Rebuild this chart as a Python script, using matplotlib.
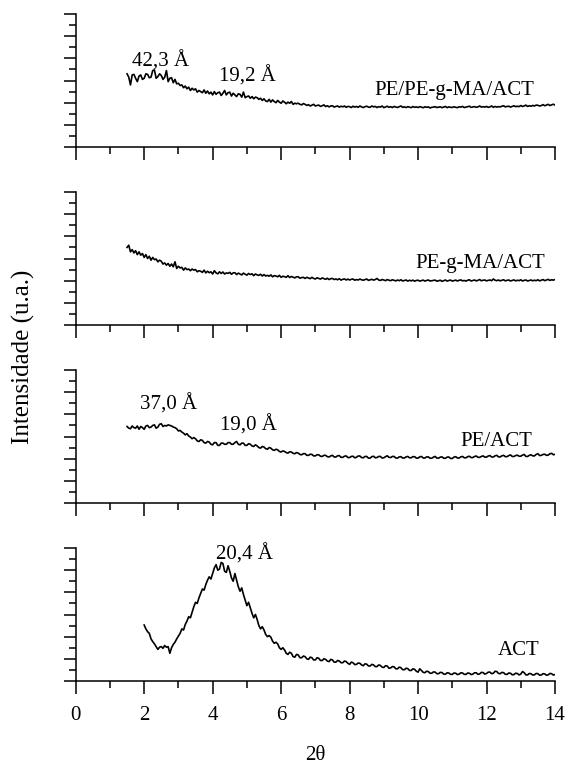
import numpy as np
import matplotlib
matplotlib.use("Agg")
import matplotlib.pyplot as plt
from matplotlib.ticker import MultipleLocator, NullFormatter

plt.rcParams['font.family'] = ['Liberation Serif', 'DejaVu Serif']

# ---------------- data (step 0.05 in 2theta) ----------------
start_pe_ma_act = 1.5
i_pe_ma_act = [
    6.6, 6.3, 5.6, 6.5, 6.55, 6.2, 5.9, 6.4, 6.5, 6.1, 6.2, 6.6, 6.55, 6.25, 6.3, 6.9, 6.95, 6.2, 6.35, 6.6,
    6.45, 6.1, 6.3, 6.9, 5.9, 6.2, 6.25, 5.8, 6.1, 5.7, 5.75, 5.55, 5.6, 5.35, 5.5, 5.25, 5.4, 5.1, 5.3, 5.15,
    5.25, 4.95, 5.1, 5.0, 4.9, 5.15, 4.85, 5.05, 4.8, 4.95, 4.7, 5.0, 4.75, 4.9, 4.95, 4.65, 4.85, 5.1, 4.7, 4.9,
    4.95, 4.6, 4.85, 4.7, 4.55, 4.8, 4.75, 4.5, 4.95, 4.45, 4.55, 4.6, 4.4, 4.55, 4.35, 4.5, 4.45, 4.3, 4.4, 4.2,
    4.35, 4.15, 4.1, 4.3, 4.05, 4.25, 4.1, 4.0, 4.2, 4.05, 3.95, 4.15, 4.05, 3.9, 4.05, 3.95, 4.1, 3.85, 3.95, 3.9,
    3.95, 3.85, 3.8, 3.92, 3.85, 3.75, 3.82, 3.7, 3.78, 3.85, 3.7, 3.75, 3.78, 3.66, 3.72, 3.8, 3.65, 3.72, 3.62, 3.7,
    3.72, 3.6, 3.66, 3.7, 3.6, 3.68, 3.62, 3.7, 3.58, 3.66, 3.64, 3.56, 3.68, 3.6, 3.66, 3.58, 3.7, 3.62, 3.56, 3.64,
    3.68, 3.6, 3.58, 3.7, 3.62, 3.66, 3.56, 3.64, 3.6, 3.7, 3.55, 3.62, 3.68, 3.58, 3.64, 3.56, 3.66, 3.6, 3.57, 3.63,
    3.7, 3.58, 3.62, 3.56, 3.64, 3.6, 3.55, 3.65, 3.58, 3.62, 3.56, 3.64, 3.6, 3.54, 3.63, 3.58, 3.62, 3.52, 3.58, 3.6,
    3.64, 3.56, 3.6, 3.62, 3.55, 3.6, 3.66, 3.55, 3.62, 3.58, 3.57, 3.63, 3.58, 3.55, 3.63, 3.6, 3.66, 3.56, 3.6, 3.63,
    3.68, 3.57, 3.62, 3.64, 3.58, 3.62, 3.7, 3.6, 3.64, 3.6, 3.66, 3.58, 3.62, 3.7, 3.58, 3.66, 3.6, 3.64, 3.62, 3.68,
    3.72, 3.62, 3.66, 3.68, 3.6, 3.66, 3.72, 3.64, 3.68, 3.64, 3.74, 3.66, 3.7, 3.78, 3.66, 3.72, 3.68, 3.75, 3.7, 3.78,
    3.76, 3.7, 3.74, 3.82, 3.72, 3.78, 3.85, 3.74, 3.8, 3.86, 3.78,
]

start_ma_act = 1.5
i_ma_act = [
    7.0, 7.2, 6.6, 6.8, 6.5, 6.7, 6.35, 6.6, 6.3, 6.45, 6.1, 6.35, 6.0, 6.2, 5.85, 6.1, 5.9, 5.95, 5.7, 5.85,
    5.75, 5.5, 5.6, 5.4, 5.55, 5.3, 5.5, 5.25, 5.7, 5.1, 5.3, 5.15, 5.2, 4.95, 5.15, 5.0, 5.05, 4.9, 5.05, 4.95,
    5.0, 4.8, 4.9, 4.85, 4.75, 4.95, 4.7, 4.85, 4.72, 4.8, 4.6, 4.9, 4.7, 4.62, 4.8, 4.65, 4.78, 4.6, 4.7, 4.66,
    4.75, 4.58, 4.7, 4.72, 4.55, 4.68, 4.6, 4.52, 4.68, 4.58, 4.5, 4.65, 4.55, 4.62, 4.45, 4.6, 4.52, 4.48, 4.58, 4.42,
    4.55, 4.42, 4.48, 4.4, 4.52, 4.35, 4.45, 4.42, 4.35, 4.48, 4.3, 4.4, 4.36, 4.3, 4.45, 4.28, 4.38, 4.32, 4.25, 4.35,
    4.35, 4.22, 4.28, 4.3, 4.2, 4.3, 4.24, 4.18, 4.3, 4.2, 4.15, 4.26, 4.2, 4.14, 4.25, 4.18, 4.12, 4.22, 4.1, 4.18,
    4.2, 4.1, 4.16, 4.08, 4.18, 4.05, 4.12, 4.16, 4.06, 4.14, 4.06, 4.12, 4.15, 4.04, 4.1, 4.06, 4.14, 4.08, 4.04, 4.1,
    4.15, 4.03, 4.08, 4.12, 4.05, 4.1, 4.2, 4.06, 4.02, 4.1, 4.06, 4.0, 4.1, 4.04, 4.0, 4.08, 4.03, 3.98, 4.06, 4.0,
    4.08, 3.97, 4.02, 4.06, 3.96, 4.04, 3.98, 4.05, 3.95, 4.02, 4.04, 3.96, 4.0, 4.05, 3.96, 4.02, 4.06, 3.97, 4.0, 4.03,
    4.05, 3.95, 4.0, 4.04, 3.94, 4.0, 4.06, 3.96, 4.02, 4.05, 3.96, 4.0, 4.05, 3.97, 4.03, 4.07, 3.98, 4.02, 3.96, 4.04,
    4.08, 3.97, 4.02, 4.06, 3.98, 4.03, 4.1, 3.99, 4.04, 4.06, 3.98, 4.03, 4.06, 4.0, 4.15, 4.04, 4.0, 4.06, 3.98, 4.04,
    4.08, 3.98, 4.03, 4.06, 3.97, 4.02, 4.07, 3.98, 4.04, 4.0, 4.08, 3.97, 4.03, 4.06, 3.97, 4.02, 4.06, 3.99, 4.04, 4.0,
    4.08, 3.98, 4.04, 4.1, 4.0, 4.06, 4.12, 4.02, 4.08, 4.05, 4.1,
]

start_pe_act = 1.5
i_pe_act = [
    6.9, 6.75, 6.7, 6.95, 6.8, 6.75, 6.95, 6.65, 6.9, 6.8, 6.65, 6.95, 7.0, 6.8, 6.85, 7.0, 7.05, 6.75, 6.85, 7.1,
    7.15, 6.9, 7.0, 6.95, 7.05, 7.0, 6.95, 6.85, 6.8, 6.7, 6.5, 6.55, 6.4, 6.3, 6.15, 6.25, 6.05, 5.95, 5.8, 5.9,
    5.8, 5.6, 5.55, 5.7, 5.65, 5.45, 5.4, 5.55, 5.5, 5.3, 5.25, 5.45, 5.45, 5.2, 5.2, 5.4, 5.4, 5.3, 5.3, 5.45,
    5.45, 5.3, 5.3, 5.45, 5.55, 5.3, 5.25, 5.4, 5.4, 5.2, 5.2, 5.35, 5.3, 5.15, 5.1, 5.25, 5.15, 5.0, 4.95, 5.1,
    5.05, 4.9, 4.85, 5.0, 4.95, 4.8, 4.75, 4.85, 4.8, 4.65, 4.6, 4.7, 4.65, 4.55, 4.5, 4.62, 4.6, 4.48, 4.45, 4.55,
    4.5, 4.38, 4.35, 4.45, 4.45, 4.3, 4.3, 4.4, 4.38, 4.25, 4.25, 4.35, 4.35, 4.22, 4.2, 4.3, 4.3, 4.18, 4.15, 4.25,
    4.3, 4.15, 4.15, 4.26, 4.28, 4.12, 4.12, 4.22, 4.25, 4.1, 4.1, 4.2, 4.22, 4.08, 4.12, 4.24, 4.24, 4.1, 4.08, 4.2,
    4.2, 4.05, 4.05, 4.18, 4.22, 4.08, 4.1, 4.2, 4.2, 4.06, 4.08, 4.18, 4.26, 4.12, 4.1, 4.2, 4.2, 4.06, 4.05, 4.16,
    4.18, 4.06, 4.06, 4.16, 4.2, 4.08, 4.08, 4.18, 4.18, 4.05, 4.05, 4.16, 4.2, 4.06, 4.06, 4.16, 4.16, 4.04, 4.04, 4.14,
    4.2, 4.05, 4.05, 4.14, 4.16, 4.04, 4.04, 4.14, 4.15, 4.02, 4.02, 4.14, 4.18, 4.06, 4.06, 4.16, 4.2, 4.08, 4.08, 4.18,
    4.22, 4.1, 4.1, 4.2, 4.24, 4.12, 4.12, 4.2, 4.25, 4.14, 4.14, 4.24, 4.28, 4.15, 4.15, 4.26, 4.3, 4.16, 4.16, 4.26,
    4.3, 4.18, 4.18, 4.28, 4.34, 4.2, 4.2, 4.28, 4.32, 4.22, 4.22, 4.32, 4.38, 4.2, 4.2, 4.3, 4.35, 4.25, 4.25, 4.38,
    4.45, 4.28, 4.3, 4.38, 4.4, 4.3, 4.32, 4.44, 4.48, 4.36, 4.38,
]

start_act = 2.0
i_act = [
    5.05, 4.7, 4.45, 4.3, 3.8, 3.55, 3.35, 3.1, 2.85, 3.05, 3.1, 2.95, 3.2, 3.05, 3.1, 2.5, 3.0, 3.3, 3.5, 3.8,
    4.05, 4.3, 4.7, 4.6, 5.1, 5.4, 5.8, 5.7, 6.2, 6.7, 7.1, 7.0, 7.5, 7.9, 8.3, 8.2, 8.7, 9.1, 9.4, 9.2,
    9.7, 10.2, 10.5, 10.0, 10.1, 10.7, 10.6, 9.9, 9.8, 10.4, 9.9, 9.3, 9.0, 9.7, 9.1, 8.5, 8.1, 8.4, 7.8, 7.3,
    6.8, 7.1, 6.6, 6.1, 5.7, 6.0, 5.55, 5.0, 4.7, 4.9, 4.6, 4.2, 4.0, 4.1, 3.95, 3.6, 3.4, 3.5, 3.35, 3.0,
    2.85, 3.0, 2.8, 2.5, 2.4, 2.6, 2.5, 2.2, 2.15, 2.4, 2.35, 2.1, 2.1, 2.25, 2.2, 2.0, 1.95, 2.15, 2.1, 1.9,
    1.9, 2.1, 2.05, 1.85, 1.85, 2.0, 1.95, 1.8, 1.75, 1.95, 1.9, 1.7, 1.7, 1.85, 1.8, 1.65, 1.65, 1.8, 1.75, 1.6,
    1.5, 1.7, 1.65, 1.48, 1.5, 1.62, 1.6, 1.45, 1.38, 1.55, 1.52, 1.36, 1.35, 1.5, 1.45, 1.3, 1.3, 1.45, 1.4, 1.25,
    1.22, 1.38, 1.35, 1.15, 1.18, 1.3, 1.28, 1.1, 1.1, 1.25, 1.2, 1.02, 1.02, 1.15, 1.12, 0.95, 0.95, 1.1, 1.05, 0.88,
    0.8, 1.1, 0.95, 0.78, 0.75, 0.88, 0.85, 0.7, 0.7, 0.82, 0.8, 0.66, 0.66, 0.78, 0.76, 0.62, 0.62, 0.74, 0.72, 0.6,
    0.6, 0.72, 0.7, 0.58, 0.62, 0.74, 0.72, 0.6, 0.6, 0.72, 0.7, 0.58, 0.62, 0.74, 0.74, 0.6, 0.64, 0.78, 0.76, 0.62,
    0.68, 0.8, 0.8, 0.66, 0.7, 0.88, 0.85, 0.68, 0.66, 0.78, 0.75, 0.6, 0.6, 0.72, 0.7, 0.56, 0.58, 0.7, 0.68, 0.55,
    0.62, 0.85, 0.75, 0.55, 0.55, 0.68, 0.65, 0.54, 0.56, 0.68, 0.66, 0.52, 0.54, 0.66, 0.64, 0.52, 0.55, 0.68, 0.66, 0.54,
    0.58,
]
end_2theta = 14.0

sample_names = ["PE/PE-g-MA/ACT", "PE-g-MA/ACT", "PE/ACT", "ACT"]
name_pos = [(11.05, 4.7), (11.82, 5.17), (12.28, 5.15), (12.93, 2.35)]
peak_labels = [
    [("42,3 Å", 2.49, 7.3), ("19,2 Å", 5.0, 5.9)],
    [],
    [("37,0 Å", 2.70, 8.4), ("19,0 Å", 5.05, 6.5)],
    [("20,4 Å", 4.94, 11.0)],
]
series = [(start_pe_ma_act, i_pe_ma_act), (start_ma_act, i_ma_act),
          (start_pe_act, i_pe_act), (start_act, i_act)]

x_ticks = [0, 2, 4, 6, 8, 10, 12, 14]

# ---------------- figure ----------------
W, H = 566, 765
fig = plt.figure(figsize=(W / 100, H / 100), dpi=100)

left_px, right_px = 75.7, 555.0
tops = [14, 192, 370, 548]
bottoms = [147, 325, 503, 681]

for k, ((x0, yv), name, (nx, ny), peaks) in enumerate(zip(series, sample_names, name_pos, peak_labels)):
    ax = fig.add_axes([left_px / W, 1 - bottoms[k] / H,
                       (right_px - left_px) / W, (bottoms[k] - tops[k]) / H])
    x = np.linspace(x0, end_2theta, len(yv))
    ax.plot(x, yv, color='black', lw=1.2)
    ax.set_xlim(0, 14)
    ax.set_ylim(0, 12)
    for s in ['top', 'right']:
        ax.spines[s].set_visible(False)
    for s in ['left', 'bottom']:
        ax.spines[s].set_linewidth(1.1)
    ax.set_xticks(x_ticks)
    ax.xaxis.set_minor_locator(MultipleLocator(1))
    ax.yaxis.set_major_locator(MultipleLocator(2))
    ax.yaxis.set_minor_locator(MultipleLocator(1))
    ax.yaxis.set_major_formatter(NullFormatter())
    ax.tick_params(which='major', direction='out', length=9, width=1.1)
    ax.tick_params(which='minor', direction='out', length=5, width=1.1)
    if k < 3:
        ax.xaxis.set_major_formatter(NullFormatter())
    else:
        ax.tick_params(axis='x', which='major', labelsize=15, pad=9)
    ax.text(nx, ny, name, ha='center', va='baseline', fontsize=15)
    for txt, px, py in peaks:
        ax.text(px, py, txt, ha='center', va='baseline', fontsize=15)

fig.text((left_px + right_px) / 2 / W, 1 - 755 / H, "2θ", ha='center', va='center', fontsize=15)
fig.text(23 / W, 1 - 357 / H, "Intensidade (u.a.)", ha='center', va='center',
         rotation=90, fontsize=18)

fig.savefig("out.png", dpi=100)
